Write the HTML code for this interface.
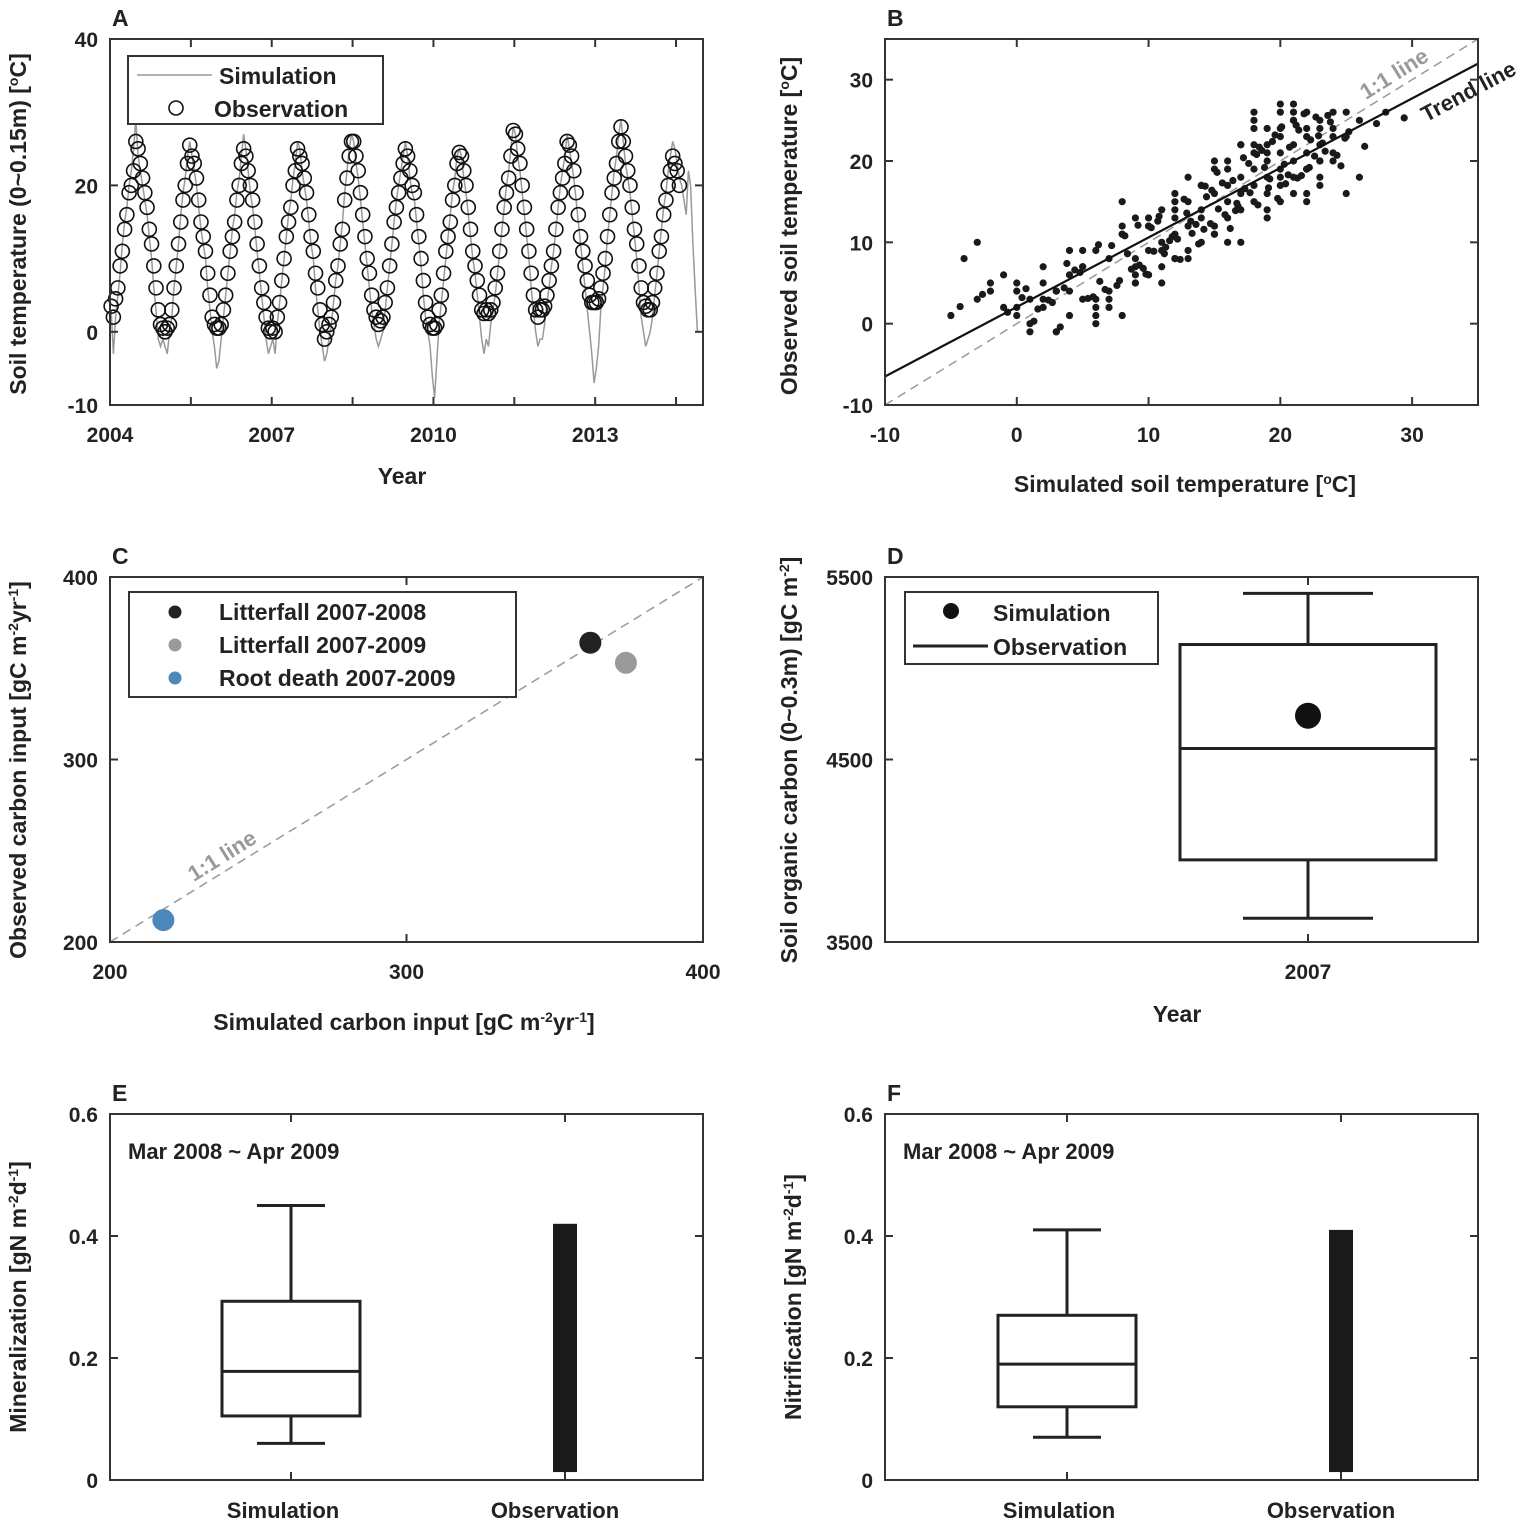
<!DOCTYPE html>
<html><head><meta charset="utf-8"><style>
html,body{margin:0;padding:0;background:#fff}
svg{display:block}
text{font-family:"Liberation Sans",sans-serif;font-weight:bold;fill:#222}
</style></head><body>
<svg id="fig" width="1535" height="1525" xmlns="http://www.w3.org/2000/svg"></svg>
<script>
// ---------- Panel A data ----------
const aYears=[2004,2005,2006,2007,2008,2009,2010,2011,2012,2013,2014];
const obsA=[
[3.5,2,4.5,6,9,11,14,16,19,20,22,26,25,23,21,19,17,14,12,9,6,3,1,0.5],
[0,0.5,1,3,6,9,12,15,18,20,23,25.5,24,23,21,18,15,13,11,8,5,2,1,0.5],
[0.5,1,3,5,8,11,13,15,18,20,23,25,24,22,20,18,15,12,9,6,4,2,0.5,0],
[0.5,0,2,4,7,10,13,15,17,20,22,25,24,23,21,19,16,13,11,8,6,3,1,-1],
[0,1,2,4,7,9,12,14,18,21,24,26,26,24,22,19,16,13,10,8,5,3,2,1],
[1.5,2,4,6,9,12,15,17,19,21,23,25,24,22,20,19,16,13,10,7,4,2,1,0.5],
[0.5,1,3,5,8,11,13,15,18,20,23,24.5,24,22,20,17,14,11,9,7,5,3,2.5,3],
[2.5,3,4,6,8,11,14,17,19,21,24,27.5,27,25,23,20,17,14,11,8,5,3,2,3],
[3,3.5,5,7,9,11,14,17,19,21,23,26,25.5,24,22,19,16,13,11,9,7,5,4,4],
[4,4.5,6,8,10,13,16,19,21,23,26,28,26,24,22,20,17,14,12,9,6,4,3.5,3],
[3,4,6,8,11,13,16,18,20,22,24,23,22,20]];
const simA=[
[3,-3,2,5,8,12,15,17,20,22,25,29,24,22,20,18,16,13,10,6,3,-1,-2,-1],
[-2,-3,0,2,6,9,12,16,19,21,24,26,24,22,20,17,14,12,10,6,3,0,-2,-5],
[-4,-1,2,5,8,11,14,16,19,21,24,27,25,22,19,17,14,11,8,5,2,-1,-3,-2],
[-1,-3,1,4,7,10,13,16,18,21,23,26,25,22,20,18,15,12,10,6,3,0,-2,-4],
[-3,-1,1,4,7,9,12,15,19,22,25,27,26,23,21,18,15,12,9,6,3,1,-1,-2],
[-1,0,3,6,9,12,15,18,20,22,24,26,24,21,19,18,15,12,9,5,2,0,-2,-6],
[-9,-4,1,4,7,10,13,16,19,21,24,25,24,21,19,16,13,10,8,5,2,-1,-3,-1],
[-2,1,3,5,8,11,14,17,20,22,25,28,27,24,22,19,16,13,10,6,3,0,-2,-1],
[-1,1,4,6,9,11,14,17,20,22,24,27,25,23,21,18,15,12,9,6,3,0,-3,-7],
[-5,-2,3,6,9,13,16,19,22,24,27,29,26,23,21,19,16,13,10,6,2,0,-2,-1],
[0,2,5,8,11,14,17,19,22,24,26,25,23,21,20,18,16,22,20,12,6,0]];
const aYTicks=[-10,0,20,40];
const aXLabels=[2004,2007,2010,2013];
// ---------- Panel B data ----------
const bSim=[-5,-3,-4,-2,-1,0,0,1,1,2,2,3,3,4,4,5,5,6,6,7,7,8,8,9,9,10,10,10,11,11,11,12,12,12,13,13,13,14,14,14,15,15,15,15,16,16,16,16,17,17,17,17,18,18,18,18,18,19,19,19,19,19,20,20,20,20,20,20,21,21,21,21,21,22,22,22,22,22,23,23,23,23,24,24,24,25,25,26,26,28,-3,0,2,4,6,8,9,10,11,12,13,14,15,16,17,18,19,20,21,22,23,24,-1,1,3,5,7,9,11,12,14,16,18,20,22,24,6,8,10,13,15,17,19,21,23,25,-2,0,2,4,5,7,8,9,10,12,3,6,9,12,18,19,20,21,22,23,
-4.3,-2.6,-0.7,0.4,1.3,2.7,3.6,4.8,5.4,6.3,7.6,8.4,9.3,9.8,10.4,10.7,11.3,11.8,12.4,12.9,13.3,13.8,14.4,14.7,15.3,15.6,16.2,16.7,17.3,17.6,18.3,18.6,19.2,19.6,20.3,20.7,21.2,21.6,22.3,22.7,23.4,23.8,24.3,25.2,26.4,27.3,29.4,5.8,7.2,8.7,10.2,11.6,12.7,13.6,14.3,15.8,16.4,17.7,18.8,19.4,20.6,21.4,22.6,23.2,24.6,1.6,3.3,4.4,6.7,8.2,9.6,10.8,11.2,12.2,13.2,14.8,16.8,17.2,18.4,19.8,20.4,21.8,22.2,0.7,2.4,3.8,6.2,7.8,9.2,14.2,15.2,16.6,18.2,19.1,20.1,21.3,22.9,23.6,24.9];
const bObs=[1,3,8,4,2,4,1,3,0,2,5,-1,4,1,6,3,7,2,9,4,8,1,11,5,8,9,12,6,10,7,14,11,8,13,9,12,15,10,14,17,12,16,11,20,13,17,15,19,14,18,22,16,21,17,25,15,19,24,20,16,22,18,21,26,19,23,17,24,20,25,22,18,27,21,24,19,23,26,22,25,20,17,24,21,26,23,16,25,18,26,10,5,3,9,1,15,7,12,5,16,8,13,11,20,10,22,14,18,25,16,24,20,6,-1,4,7,2,13,9,14,17,10,24,15,19,23,3,12,6,18,19,22,21,26,20,26,5,2,7,4,9,3,11,6,13,15,-1,0,5,8,26,13,27,16,15,18,
2.1,3.6,1.4,3.2,0.3,2.6,4.4,6.3,3.1,5.2,4.7,8.6,7.2,6.1,8.9,12.6,9.4,10.7,7.9,13.6,11.1,9.8,15.6,12.3,14.1,17.3,11.7,14.8,16.6,19.7,14.6,21.3,17.8,23.2,19.6,21.7,24.4,18.2,22.6,25.4,21.2,24.8,20.7,23.6,21.8,24.6,25.3,3.3,9.6,6.7,11.8,10.2,15.3,12.2,16.9,13.4,17.6,16.1,19.2,22.4,18.3,23.8,20.6,22.2,19.4,1.8,-0.4,6.6,4.2,10.8,6.8,13.2,8.6,10.4,12.6,16.4,14.4,20.4,21.7,15.4,17.2,25.8,19.2,4.3,2.9,7.4,9.7,5.3,12.1,11.6,18.6,13.9,20.8,16.7,24.2,17.9,23.1,25.6,22.8];
const bTrend=[0.855,2.05];
// ---------- Panel C data ----------
const cSim=[362,374,218];
const cObs=[364,353,212];
const cLabels=["Litterfall 2007-2008","Litterfall 2007-2009","Root death 2007-2009"];
const cColors=["#222","#9a9a9a","#4d88bb"];
// ---------- Panel D data ----------
const dStats=[3630,3950,4560,5130,5410];
const dSim=[4740];
// ---------- Panel E/F data ----------
const eStats=[0.06,0.105,0.178,0.293,0.45];
const eObs=[0.013,0.42];
const fStats=[0.07,0.12,0.19,0.27,0.41];
const fObs=[0.013,0.41];

const svg=document.getElementById('fig');
const NS="http://www.w3.org/2000/svg";
function el(tag,attrs,parent){const e=document.createElementNS(NS,tag);for(const k in attrs)e.setAttribute(k,attrs[k]);(parent||svg).appendChild(e);return e;}
function txt(s,attrs,parent){const e=el('text',attrs,parent);e.textContent=s;return e;}
function lin(a,b,c,d,st,w,g,dash){const e=el('line',{x1:a,y1:b,x2:c,y2:d,stroke:st,'stroke-width':w},g);if(dash)e.setAttribute('stroke-dasharray',dash);return e;}

function panel(name,x0,y0,x1,y1,letter){
  const g=el('g',{});
  
  
  const L=txt(letter,{x:x0+2,y:y0-13,'font-size':23},g);
  
  
  return g;
}
function frame(g,x0,y0,x1,y1){const r=el('rect',{x:x0,y:y0,width:x1-x0,height:y1-y0,fill:'none',stroke:'#333','stroke-width':2},g);
  }
function xt(g,px,y0,y1){lin(px,y1,px,y1-8,'#333',2,g);lin(px,y0,px,y0+8,'#333',2,g);}
function yt(g,py,x0,x1){lin(x0,py,x0+8,py,'#333',2,g);lin(x1,py,x1-8,py,'#333',2,g);}
function ytitle(g,s,cx,cy,name){const t=el('text',{x:cx,y:cy,'font-size':23,'text-anchor':'middle',transform:`rotate(-90 ${cx} ${cy})`},g);t.innerHTML=s;return t;}
function xtitle(g,s,cx,cy,name){const t=el('text',{x:cx,y:cy,'font-size':23,'text-anchor':'middle'},g);t.innerHTML=s;return t;}

// ================= Panel A =================
(function(){
 const x0=110,x1=703,y0=39,y1=405;
 const g=panel('panel-a-soil-temperature-timeseries',x0,y0,x1,y1,'A');
 const X=v=>x0+(v-2004)/(2015-2004)*(x1-x0);
 const Y=v=>y1-(v+10)/50*(y1-y0);
 let pts=[];
 simA.forEach((yr,i)=>yr.forEach((v,j)=>pts.push(X(aYears[i]+(j+0.5)/24).toFixed(1)+','+Y(v).toFixed(1))));
 const p=el('polyline',{points:pts.join(' '),fill:'none',stroke:'#999','stroke-width':1.5},g);
 
 obsA.forEach((yr,i)=>yr.forEach((v,j)=>{
  const c=el('circle',{cx:X(aYears[i]+(j+0.5)/24),cy:Y(v),r:7,fill:'none',stroke:'#111','stroke-width':1.6},g);
  
  
 }));
 frame(g,x0,y0,x1,y1);
 aYTicks.forEach(v=>{yt(g,Y(v),x0,x1);txt(String(v),{x:x0-12,y:Y(v)+8,'font-size':21,'text-anchor':'end'},g);});
 for(let v=2004;v<=2015;v+=1.5)xt(g,X(v),y0,y1);
 aXLabels.forEach(v=>txt(String(v),{x:X(v),y:y1+37,'font-size':21,'text-anchor':'middle'},g));
 xtitle(g,'Year',402,484,'x-axis-title');
 ytitle(g,'Soil temperature (0~0.15m) [<tspan dy="-8" font-size="14">o</tspan><tspan dy="8">C]</tspan>',26,224,'y-axis-title');
 const lg=el('g',{},g);
 el('rect',{x:128,y:56,width:255,height:68,fill:'#fff',stroke:'#333','stroke-width':2},lg);
 lin(137,75,212,75,'#999',1.5,lg);
 txt('Simulation',{x:219,y:84,'font-size':23},lg);
 el('circle',{cx:176,cy:108,r:7,fill:'none',stroke:'#111','stroke-width':1.6},lg);
 txt('Observation',{x:214,y:117,'font-size':23},lg);
})();

// ================= Panel B =================
(function(){
 const x0=885,x1=1478,y0=39,y1=405;
 const g=panel('panel-b-soil-temperature-scatter',x0,y0,x1,y1,'B');
 const X=v=>x0+(v+10)/45*(x1-x0);
 const Y=v=>y1-(v+10)/45*(y1-y0);
 const one=lin(X(-10),Y(-10),X(35),Y(35),'#999',1.5,g,'9,6');
 
 bSim.forEach((v,i)=>{const c=el('circle',{cx:X(v),cy:Y(bObs[i]),r:3.6,fill:'#1a1a1a'},g);
  });
 const tr=lin(X(-10),Y(bTrend[0]*-10+bTrend[1]),X(35),Y(bTrend[0]*35+bTrend[1]),'#111',2.2,g);
 
 frame(g,x0,y0,x1,y1);
 [-10,0,10,20,30].forEach(v=>{yt(g,Y(v),x0,x1);txt(String(v),{x:x0-12,y:Y(v)+8,'font-size':21,'text-anchor':'end'},g);
  xt(g,X(v),y0,y1);txt(String(v),{x:X(v),y:y1+37,'font-size':21,'text-anchor':'middle'},g);});
 txt('1:1 line',{x:1398,y:80,'font-size':22,'text-anchor':'middle',transform:'rotate(-32 1398 80)',style:'fill:#999'},g);
 txt('Trend line',{x:1472,y:98,'font-size':22,'text-anchor':'middle',transform:'rotate(-28 1472 98)'},g);
 xtitle(g,'Simulated soil temperature [<tspan dy="-8" font-size="14">o</tspan><tspan dy="8">C]</tspan>',1185,492,'x-axis-title');
 ytitle(g,'Observed soil temperature [<tspan dy="-8" font-size="14">o</tspan><tspan dy="8">C]</tspan>',797,226,'y-axis-title');
})();

// ================= Panel C =================
(function(){
 const x0=110,x1=703,y0=577,y1=942;
 const g=panel('panel-c-carbon-input',x0,y0,x1,y1,'C');
 const X=v=>x0+(v-200)/200*(x1-x0);
 const Y=v=>y1-(v-200)/200*(y1-y0);
 const one=lin(X(200),Y(200),X(400),Y(400),'#999',1.5,g,'9,6');
 
 txt('1:1 line',{x:226,y:862,'font-size':22,'text-anchor':'middle',transform:'rotate(-32 226 862)',style:'fill:#999'},g);
 cSim.forEach((v,i)=>{const c=el('circle',{cx:X(v),cy:Y(cObs[i]),r:11,fill:cColors[i]},g);
  });
 frame(g,x0,y0,x1,y1);
 [200,300,400].forEach(v=>{yt(g,Y(v),x0,x1);txt(String(v),{x:x0-12,y:Y(v)+8,'font-size':21,'text-anchor':'end'},g);
  xt(g,X(v),y0,y1);txt(String(v),{x:X(v),y:y1+37,'font-size':21,'text-anchor':'middle'},g);});
 const lg=el('g',{},g);
 el('rect',{x:129,y:592,width:387,height:105,fill:'#fff',stroke:'#333','stroke-width':2},lg);
 cLabels.forEach((s,i)=>{el('circle',{cx:175,cy:612+i*33,r:6.5,fill:cColors[i]},lg);txt(s,{x:219,y:620+i*33,'font-size':23},lg);});
 xtitle(g,'Simulated carbon input [gC m<tspan dy="-8" font-size="14">-2</tspan><tspan dy="8">yr</tspan><tspan dy="-8" font-size="14">-1</tspan><tspan dy="8">]</tspan>',404,1030,'x-axis-title');
 ytitle(g,'Observed carbon input [gC m<tspan dy="-8" font-size="14">-2</tspan><tspan dy="8">yr</tspan><tspan dy="-8" font-size="14">-1</tspan><tspan dy="8">]</tspan>',26,770,'y-axis-title');
})();

function boxplot(g,cx,halfBox,halfCap,Y,s){
 const b=el('g',{},g);
 lin(cx,Y(s[0]),cx,Y(s[1]),'#222',3,b);lin(cx,Y(s[3]),cx,Y(s[4]),'#222',3,b);
 lin(cx-halfCap,Y(s[0]),cx+halfCap,Y(s[0]),'#222',3,b);lin(cx-halfCap,Y(s[4]),cx+halfCap,Y(s[4]),'#222',3,b);
 el('rect',{x:cx-halfBox,y:Y(s[3]),width:2*halfBox,height:Y(s[1])-Y(s[3]),fill:'none',stroke:'#222','stroke-width':3},b);
 lin(cx-halfBox,Y(s[2]),cx+halfBox,Y(s[2]),'#222',3,b);
}

// ================= Panel D =================
(function(){
 const x0=885,x1=1478,y0=577,y1=942;
 const g=panel('panel-d-soil-organic-carbon',x0,y0,x1,y1,'D');
 const Y=v=>y1-(v-3500)/2000*(y1-y0);
 const cx=1308;
 boxplot(g,cx,128,65,Y,dStats);
 const sp=el('circle',{cx:cx,cy:Y(dSim[0]),r:13,fill:'#111'},g);
 
 frame(g,x0,y0,x1,y1);
 [3500,4500,5500].forEach(v=>{yt(g,Y(v),x0,x1);txt(String(v),{x:x0-12,y:Y(v)+8,'font-size':21,'text-anchor':'end'},g);});
 xt(g,cx,y0,y1);txt('2007',{x:cx,y:y1+37,'font-size':21,'text-anchor':'middle'},g);
 xtitle(g,'Year',1177,1022,'x-axis-title');
 ytitle(g,'Soil organic carbon (0~0.3m) [gC m<tspan dy="-8" font-size="14">-2</tspan><tspan dy="8">]</tspan>',797,760,'y-axis-title');
 const lg=el('g',{},g);
 el('rect',{x:905,y:592,width:253,height:72,fill:'#fff',stroke:'#333','stroke-width':2},lg);
 el('circle',{cx:951,cy:611,r:8,fill:'#111'},lg);
 txt('Simulation',{x:993,y:621,'font-size':23},lg);
 lin(913,646,988,646,'#222',3,lg);
 txt('Observation',{x:993,y:655,'font-size':23},lg);
})();

// ================= Panels E, F =================
function nPanel(name,letter,x0,title,stats,obs,c1,c2){
 const x1=x0+593,y0=1114,y1=1480;
 const g=panel(name,x0,y0,x1,y1,letter);
 const Y=v=>y1-v/0.6*(y1-y0);
 boxplot(g,c1,69,34,Y,stats);
 const r=el('rect',{x:c2-12,y:Y(obs[1]),width:24,height:Y(obs[0])-Y(obs[1]),fill:'#1a1a1a'},g);
 
 frame(g,x0,y0,x1,y1);
 [0,0.2,0.4,0.6].forEach(v=>{yt(g,Y(v),x0,x1);txt(v===0?'0':v.toFixed(1),{x:x0-12,y:Y(v)+8,'font-size':21,'text-anchor':'end'},g);});
 xt(g,c1,y0,y1);xt(g,c2,y0,y1);
 txt('Simulation',{x:c1-8,y:y1+38,'font-size':22,'text-anchor':'middle'},g);
 txt('Observation',{x:c2-10,y:y1+38,'font-size':22,'text-anchor':'middle'},g);
 txt('Mar 2008 ~ Apr 2009',{x:x0+18,y:1159,'font-size':22},g);
 ytitle(g,title,x0-84,1297,'y-axis-title');
}
nPanel('panel-e-mineralization','E',110,'Mineralization [gN m<tspan dy="-8" font-size="14">-2</tspan><tspan dy="8">d</tspan><tspan dy="-8" font-size="14">-1</tspan><tspan dy="8">]</tspan>',eStats,eObs,291,565);
nPanel('panel-f-nitrification','F',885,'Nitrification [gN m<tspan dy="-8" font-size="14">-2</tspan><tspan dy="8">d</tspan><tspan dy="-8" font-size="14">-1</tspan><tspan dy="8">]</tspan>',fStats,fObs,1067,1341);
</script>
</body></html>
